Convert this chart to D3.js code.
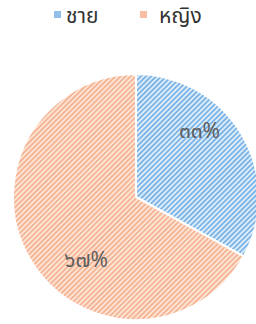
<!DOCTYPE html>
<html>
<head>
<meta charset="utf-8">
<script src="https://cdn.jsdelivr.net/npm/d3@7"></script>
<style>
  html, body { margin: 0; padding: 0; background: #fff; }
  svg { display: block; font-family: "Noto Sans Thai", "Noto Sans", "DejaVu Sans", sans-serif; }
</style>
</head>
<body>
<div id="chart"></div>
<script>
(function drawPie() {
  const WIDTH = 256
  const HEIGHT = 324

  // data
  const categories = ['ชาย', 'หญิง']
  const values = [33, 67]
  const labels = ['๓๓%', '๖๗%']

  const stripeColors = ['#7db4e6', '#f5b493']
  const groundColors = ['#e2f0fb', '#fee7da']

  const svg = d3.select('#chart')
    .append('svg')
    .attr('width', WIDTH)
    .attr('height', HEIGHT)

  // hatch patterns
  const defs = svg.append('defs')
  categories.forEach((c, i) => {
    const p = defs.append('pattern')
      .attr('id', 'hatch' + i)
      .attr('patternUnits', 'userSpaceOnUse')
      .attr('width', 3.6)
      .attr('height', 3.6)
      .attr('patternTransform', 'rotate(45)')
    p.append('rect')
      .attr('width', 3.6)
      .attr('height', 3.6)
      .attr('fill', groundColors[i])
    p.append('rect')
      .attr('width', 1.9)
      .attr('height', 3.6)
      .attr('fill', stripeColors[i])
  })

  // legend
  const legendX = [54, 140]
  const legend = svg.append('g')
  categories.forEach((c, i) => {
    const g = legend.append('g').attr('transform', 'translate(' + legendX[i] + ',11)')
    g.append('rect')
      .attr('width', 7)
      .attr('height', 7)
      .attr('fill', stripeColors[i])
      .attr('opacity', 0.85)
    g.append('text')
      .attr('x', i === 0 ? 12 : 19)
      .attr('y', 12)
      .attr('font-size', 21)
      .attr('fill', '#333')
      .text(c)
  })

  // pie
  const radius = 123
  const chart = svg.append('g')
    .attr('transform', 'translate(136,197)')

  const pie = d3.pie()
    .value((d) => d)
    .sort(null)

  const arc = d3.arc()
    .innerRadius(0)
    .outerRadius(radius)

  const arcs = pie(values)

  chart.selectAll('path')
    .data(arcs)
    .enter()
    .append('path')
    .attr('d', arc)
    .attr('fill', (d, i) => 'url(#hatch' + i + ')')
    .attr('stroke', '#fff')
    .attr('stroke-width', 2)
    .attr('stroke-linejoin', 'round')

  // labels sit a bit before the middle of each slice
  const labelR = radius * 0.7
  const labelAngle = (d) => d.startAngle + (d.endAngle - d.startAngle) * 0.4
  chart.selectAll('text.lbl')
    .data(arcs)
    .enter()
    .append('text')
    .attr('class', 'lbl')
    .attr('x', (d) => Math.sin(labelAngle(d)) * labelR)
    .attr('y', (d) => -Math.cos(labelAngle(d)) * labelR - 7)
    .attr('text-anchor', 'middle')
    .attr('dominant-baseline', 'central')
    .attr('font-size', 21)
    .attr('fill', '#5f5f5f')
    .text((d, i) => labels[i])
})()
</script>
</body>
</html>
